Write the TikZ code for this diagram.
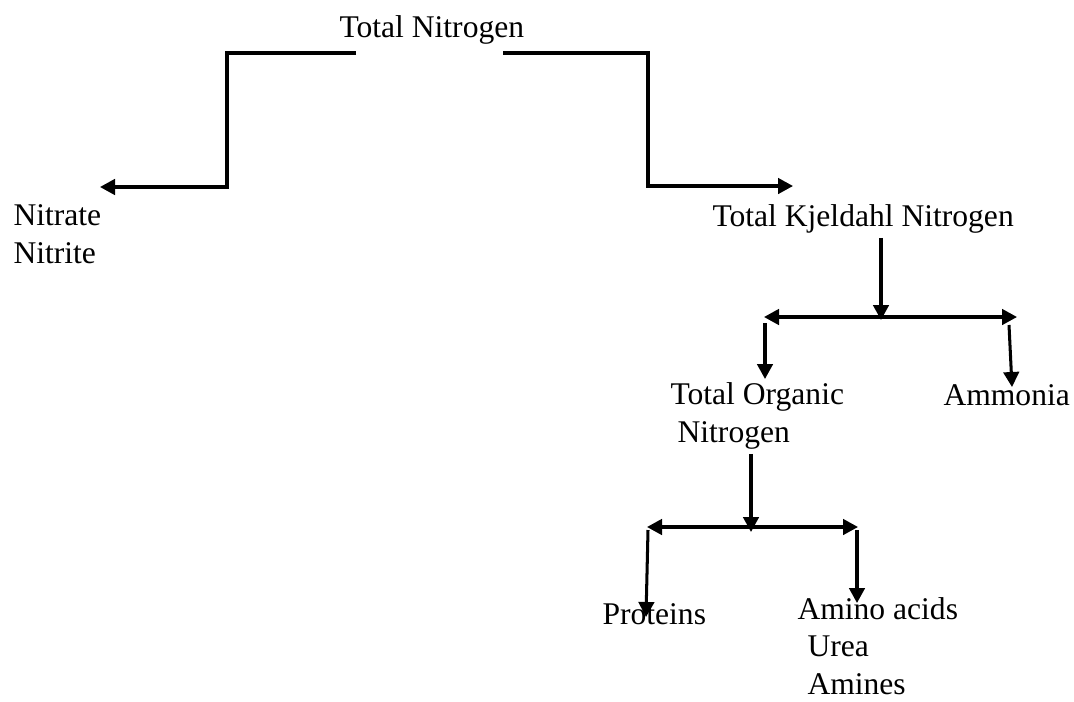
\documentclass[tikz,border=0pt]{standalone}
\usepackage{fontspec}
\setmainfont{Liberation Serif}
\usetikzlibrary{arrows.meta,calc}

\tikzset{
  lbl/.style={anchor=base west, inner sep=0pt, align=left, font=\fontsize{12}{14.2}\selectfont},
  br/.style={line width=1.15pt, -{Triangle[length=5.7pt,width=5.9pt]}},
  brboth/.style={line width=1.15pt, {Triangle[length=5.7pt,width=5.9pt]}-{Triangle[length=5.7pt,width=5.9pt]}},
}

\begin{document}
\begin{tikzpicture}[x=0.38pt,y=-0.38pt]
\useasboundingbox (0,0) rectangle (1074,701);

% the labels (base = baseline of the last line)
\node[lbl] (tn) at (339,37) {Total Nitrogen};
\node[lbl] (nit) at (13,263) {Nitrate\\Nitrite};
\node[lbl] (tkn) at (712,226) {Total Kjeldahl Nitrogen};
\node[lbl] (ton) at (670,442) {Total Organic\\\hspace*{2.7pt}Nitrogen};
\node[lbl] (amm) at (943,405) {Ammonia};
\node[lbl] (prot) at (602,624) {Proteins};
\node[lbl] (amino) at (797,694) {Amino acids\\\hspace*{3.8pt}Urea\\\hspace*{3.8pt}Amines};

% ends and junctions of the connectors
\coordinate (tnL) at (356,53);
\coordinate (tnR) at (503,53);
\coordinate (nitIn) at (100,187);
\coordinate (tknIn) at (793,186);
\coordinate (kj) at (881,320);
\coordinate (kjL) at (764,317);
\coordinate (kjR) at (1017,317);
\coordinate (tonIn) at (765,379);
\coordinate (ammIn) at (1012,387);
\coordinate (oj) at (751,532);
\coordinate (ojL) at (647,527);
\coordinate (ojR) at (858,527);
\coordinate (protIn) at (646,617);
\coordinate (aminoIn) at (857,603);

% first split
\draw[br] (tnL) -| (227,187) -- (nitIn);
\draw[br] (tnR) -| (648,186) -- (tknIn);

% kjeldahl split
\draw[br, shorten <=1.7pt] (tkn.south -| kj) -- (kj);
\draw[brboth] (kjL) -- (kjR);
\draw[br] (765,323) -- (tonIn);
\draw[br] (1009,325) -- (ammIn);

% organic split
\draw[br, shorten <=1.7pt] (ton.south -| oj) -- (oj);
\draw[brboth] (ojL) -- (ojR);
\draw[br] (648,530) -- (protIn);
\draw[br] (857,530) -- (aminoIn);
\end{tikzpicture}
\end{document}
